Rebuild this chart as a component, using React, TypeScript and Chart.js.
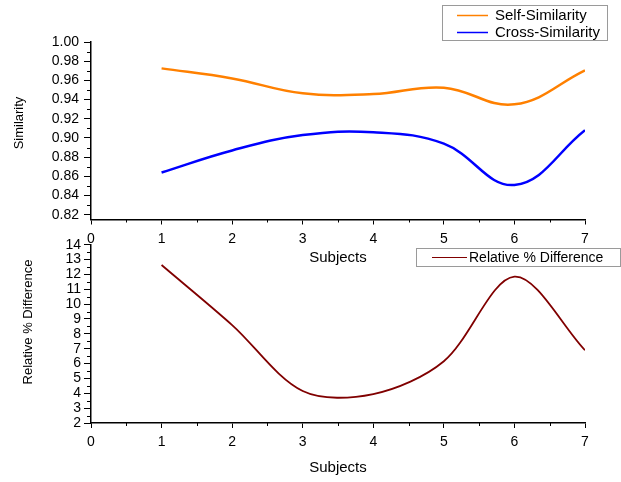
import React, { useEffect, useRef } from "react";
import { Chart, registerables } from "chart.js";

Chart.register(...registerables);

// ---- data ----
const subjects = [1, 2, 3, 4, 5, 6, 7];
const selfSimilarity = [0.9725, 0.962, 0.9465, 0.9457, 0.9523, 0.935, 0.9704];
const crossSimilarity = [0.864, 0.887, 0.903, 0.906, 0.894, 0.851, 0.908];
const relativeDifference = [12.63, 8.59, 4.15, 3.95, 6.16, 11.85, 6.9];

const xTicks = [0, 1, 2, 3, 4, 5, 6, 7];
const topYTicks = [0.82, 0.84, 0.86, 0.88, 0.9, 0.92, 0.94, 0.96, 0.98, 1.0];
const bottomYTicks = [2, 3, 4, 5, 6, 7, 8, 9, 10, 11, 12, 13, 14];

const seriesLabels = ["Self-Similarity", "Cross-Similarity", "Relative % Difference"];
const xTitle = "Subjects";
const topYTitle = "Similarity";
const bottomYTitle = "Relative % Difference";

const FONT = '"Liberation Sans", Arial, sans-serif';

const decorPlugin = {
  id: "decor",
  afterDraw(chart: any, _args: any, opts: any) {
    const { ctx, chartArea } = chart;
    const xs = chart.scales.x;
    const ys = chart.scales.y;
    ctx.save();
    // minor ticks
    ctx.strokeStyle = "#000";
    ctx.lineWidth = 1;
    ctx.beginPath();
    const xt: number[] = opts.xTicks;
    for (let i = 0; i < xt.length - 1; i++) {
      const v = (xt[i] + xt[i + 1]) / 2;
      const px = Math.round(xs.getPixelForValue(v)) + 0.5;
      ctx.moveTo(px, chartArea.bottom);
      ctx.lineTo(px, chartArea.bottom + opts.xMinorLen);
    }
    const yt: number[] = opts.yTicks;
    const ySub: number = opts.ySub;
    for (let i = 0; i < yt.length - 1; i++) {
      for (let k = 1; k < ySub; k++) {
        const v = yt[i] + ((yt[i + 1] - yt[i]) * k) / ySub;
        const py = Math.round(ys.getPixelForValue(v)) + 0.5;
        ctx.moveTo(chartArea.left, py);
        ctx.lineTo(chartArea.left - opts.yMinorLen, py);
      }
    }
    if (opts.yBelow) {
      const v = yt[0] - (yt[1] - yt[0]) / ySub;
      if (v >= ys.min) {
        const py = Math.round(ys.getPixelForValue(v)) + 0.5;
        ctx.moveTo(chartArea.left, py);
        ctx.lineTo(chartArea.left - opts.yMinorLen, py);
      }
    }
    ctx.stroke();

    // titles
    ctx.fillStyle = "#000";
    ctx.textAlign = "center";
    ctx.textBaseline = "middle";
    ctx.font = `${opts.xTitleSize}px ${FONT}`;
    ctx.fillText(opts.xTitle, (chartArea.left + chartArea.right) / 2, opts.xTitleY);
    ctx.save();
    ctx.translate(opts.yTitleX, opts.yTitleY);
    ctx.rotate(-Math.PI / 2);
    ctx.font = `${opts.yTitleSize}px ${FONT}`;
    ctx.fillText(opts.yTitle, 0, 0);
    ctx.restore();

    // legend
    const lg = opts.legend;
    ctx.fillStyle = "#fff";
    ctx.fillRect(lg.x, lg.y, lg.w, lg.h);
    ctx.strokeStyle = "#9a9a9a";
    ctx.lineWidth = 1;
    ctx.strokeRect(lg.x + 0.5, lg.y + 0.5, lg.w, lg.h);
    chart.data.datasets.forEach((ds: any, i: number) => {
      const cy = lg.y + lg.firstRow + i * lg.rowH;
      ctx.strokeStyle = ds.borderColor;
      ctx.lineWidth = lg.lineWidth;
      ctx.beginPath();
      ctx.moveTo(lg.x + lg.lineStart, cy);
      ctx.lineTo(lg.x + lg.lineEnd, cy);
      ctx.stroke();
      ctx.fillStyle = "#000";
      ctx.textAlign = "left";
      ctx.textBaseline = "middle";
      ctx.font = `${lg.size}px ${FONT}`;
      ctx.fillText(ds.label, lg.x + lg.textStart, cy + 0.5);
    });
    ctx.restore();
  },
};

function makeScales(yMin: number, yMax: number, yTicks: number[], decimals: number, yPad: number) {
  return {
    x: {
      type: "linear",
      min: 0,
      max: 7,
      afterBuildTicks: (s: any) => {
        s.ticks = xTicks.map((v) => ({ value: v }));
      },
      afterFit: (s: any) => {
        s.height = 30;
      },
      ticks: {
        autoSkip: false,
        maxRotation: 0,
        padding: 6,
        color: "#000",
        font: { family: FONT, size: 14 },
        callback: (v: any) => String(v),
      },
      grid: { drawOnChartArea: false, drawTicks: true, tickLength: 5, color: "#000", lineWidth: 1 },
      border: { display: true, color: "#000", width: 1.5 },
    },
    y: {
      type: "linear",
      min: yMin,
      max: yMax,
      afterBuildTicks: (s: any) => {
        s.ticks = yTicks.map((v) => ({ value: v }));
      },
      afterFit: (s: any) => {
        s.width = 91;
      },
      ticks: {
        autoSkip: false,
        padding: yPad,
        color: "#000",
        font: { family: FONT, size: 14 },
        callback: (v: any) => Number(v).toFixed(decimals),
      },
      grid: { drawOnChartArea: false, drawTicks: true, tickLength: 7, color: "#000", lineWidth: 1 },
      border: { display: true, color: "#000", width: 1.5 },
    },
  };
}

export default function App() {
  const topRef = useRef<HTMLCanvasElement>(null);
  const bottomRef = useRef<HTMLCanvasElement>(null);

  useEffect(() => {
    const top = new Chart(topRef.current as HTMLCanvasElement, {
      type: "line",
      data: {
        datasets: [
          {
            label: seriesLabels[0],
            data: subjects.map((x, i) => ({ x, y: selfSimilarity[i] })),
            borderColor: "#FF8000",
            borderWidth: 2.5,
            pointRadius: 0,
            tension: 0.4,
            fill: false,
          },
          {
            label: seriesLabels[1],
            data: subjects.map((x, i) => ({ x, y: crossSimilarity[i] })),
            borderColor: "#0000FF",
            borderWidth: 2.5,
            pointRadius: 0,
            tension: 0.4,
            fill: false,
          },
        ],
      },
      options: {
        responsive: false,
        animation: false,
        layout: { padding: { left: 0, top: 42, right: 36, bottom: 482 - 219.5 - 30 } },
        scales: makeScales(0.815, 1.0, topYTicks, 2, 5) as any,
        plugins: {
          legend: { display: false },
          tooltip: { enabled: false },
          decor: {
            xTicks,
            yTicks: topYTicks,
            ySub: 2,
            yBelow: true,
            xMinorLen: 3,
            yMinorLen: 4,
            xTitle,
            xTitleY: 258,
            xTitleSize: 15,
            yTitle: topYTitle,
            yTitleX: 19,
            yTitleY: 123,
            yTitleSize: 13,
            legend: {
              x: 442, y: 5, w: 165, h: 35, firstRow: 10.5, rowH: 17,
              lineStart: 15, lineEnd: 46, textStart: 53, size: 15, lineWidth: 1.5,
            },
          },
        } as any,
      },
      plugins: [decorPlugin],
    });

    const bottom = new Chart(bottomRef.current as HTMLCanvasElement, {
      type: "line",
      data: {
        datasets: [
          {
            label: seriesLabels[2],
            data: subjects.map((x, i) => ({ x, y: relativeDifference[i] })),
            borderColor: "#800000",
            borderWidth: 1.8,
            pointRadius: 0,
            tension: 0.32,
            fill: false,
          },
        ],
      },
      options: {
        responsive: false,
        animation: false,
        layout: { padding: { left: 0, top: 244.7, right: 36, bottom: 482 - 423 - 30 } },
        scales: makeScales(2, 14, bottomYTicks, 0, 3) as any,
        plugins: {
          legend: { display: false },
          tooltip: { enabled: false },
          decor: {
            xTicks,
            yTicks: bottomYTicks,
            ySub: 2,
            yBelow: false,
            xMinorLen: 3,
            yMinorLen: 4,
            xTitle,
            xTitleY: 468,
            xTitleSize: 15,
            yTitle: bottomYTitle,
            yTitleX: 28,
            yTitleY: 322,
            yTitleSize: 13,
            legend: {
              x: 416, y: 248, w: 204, h: 18, firstRow: 9.5, rowH: 17,
              lineStart: 16, lineEnd: 51, textStart: 53, size: 14, lineWidth: 1.2,
            },
          },
        } as any,
      },
      plugins: [decorPlugin],
    });

    return () => {
      top.destroy();
      bottom.destroy();
    };
  }, []);

  const canvasStyle: React.CSSProperties = { position: "absolute", left: 0, top: 0 };
  return (
    <div style={{ position: "absolute", left: 0, top: 0, width: 621, height: 482, background: "#fff" }}>
      <canvas ref={bottomRef} width={621} height={482} style={canvasStyle} />
      <canvas ref={topRef} width={621} height={482} style={canvasStyle} />
    </div>
  );
}
